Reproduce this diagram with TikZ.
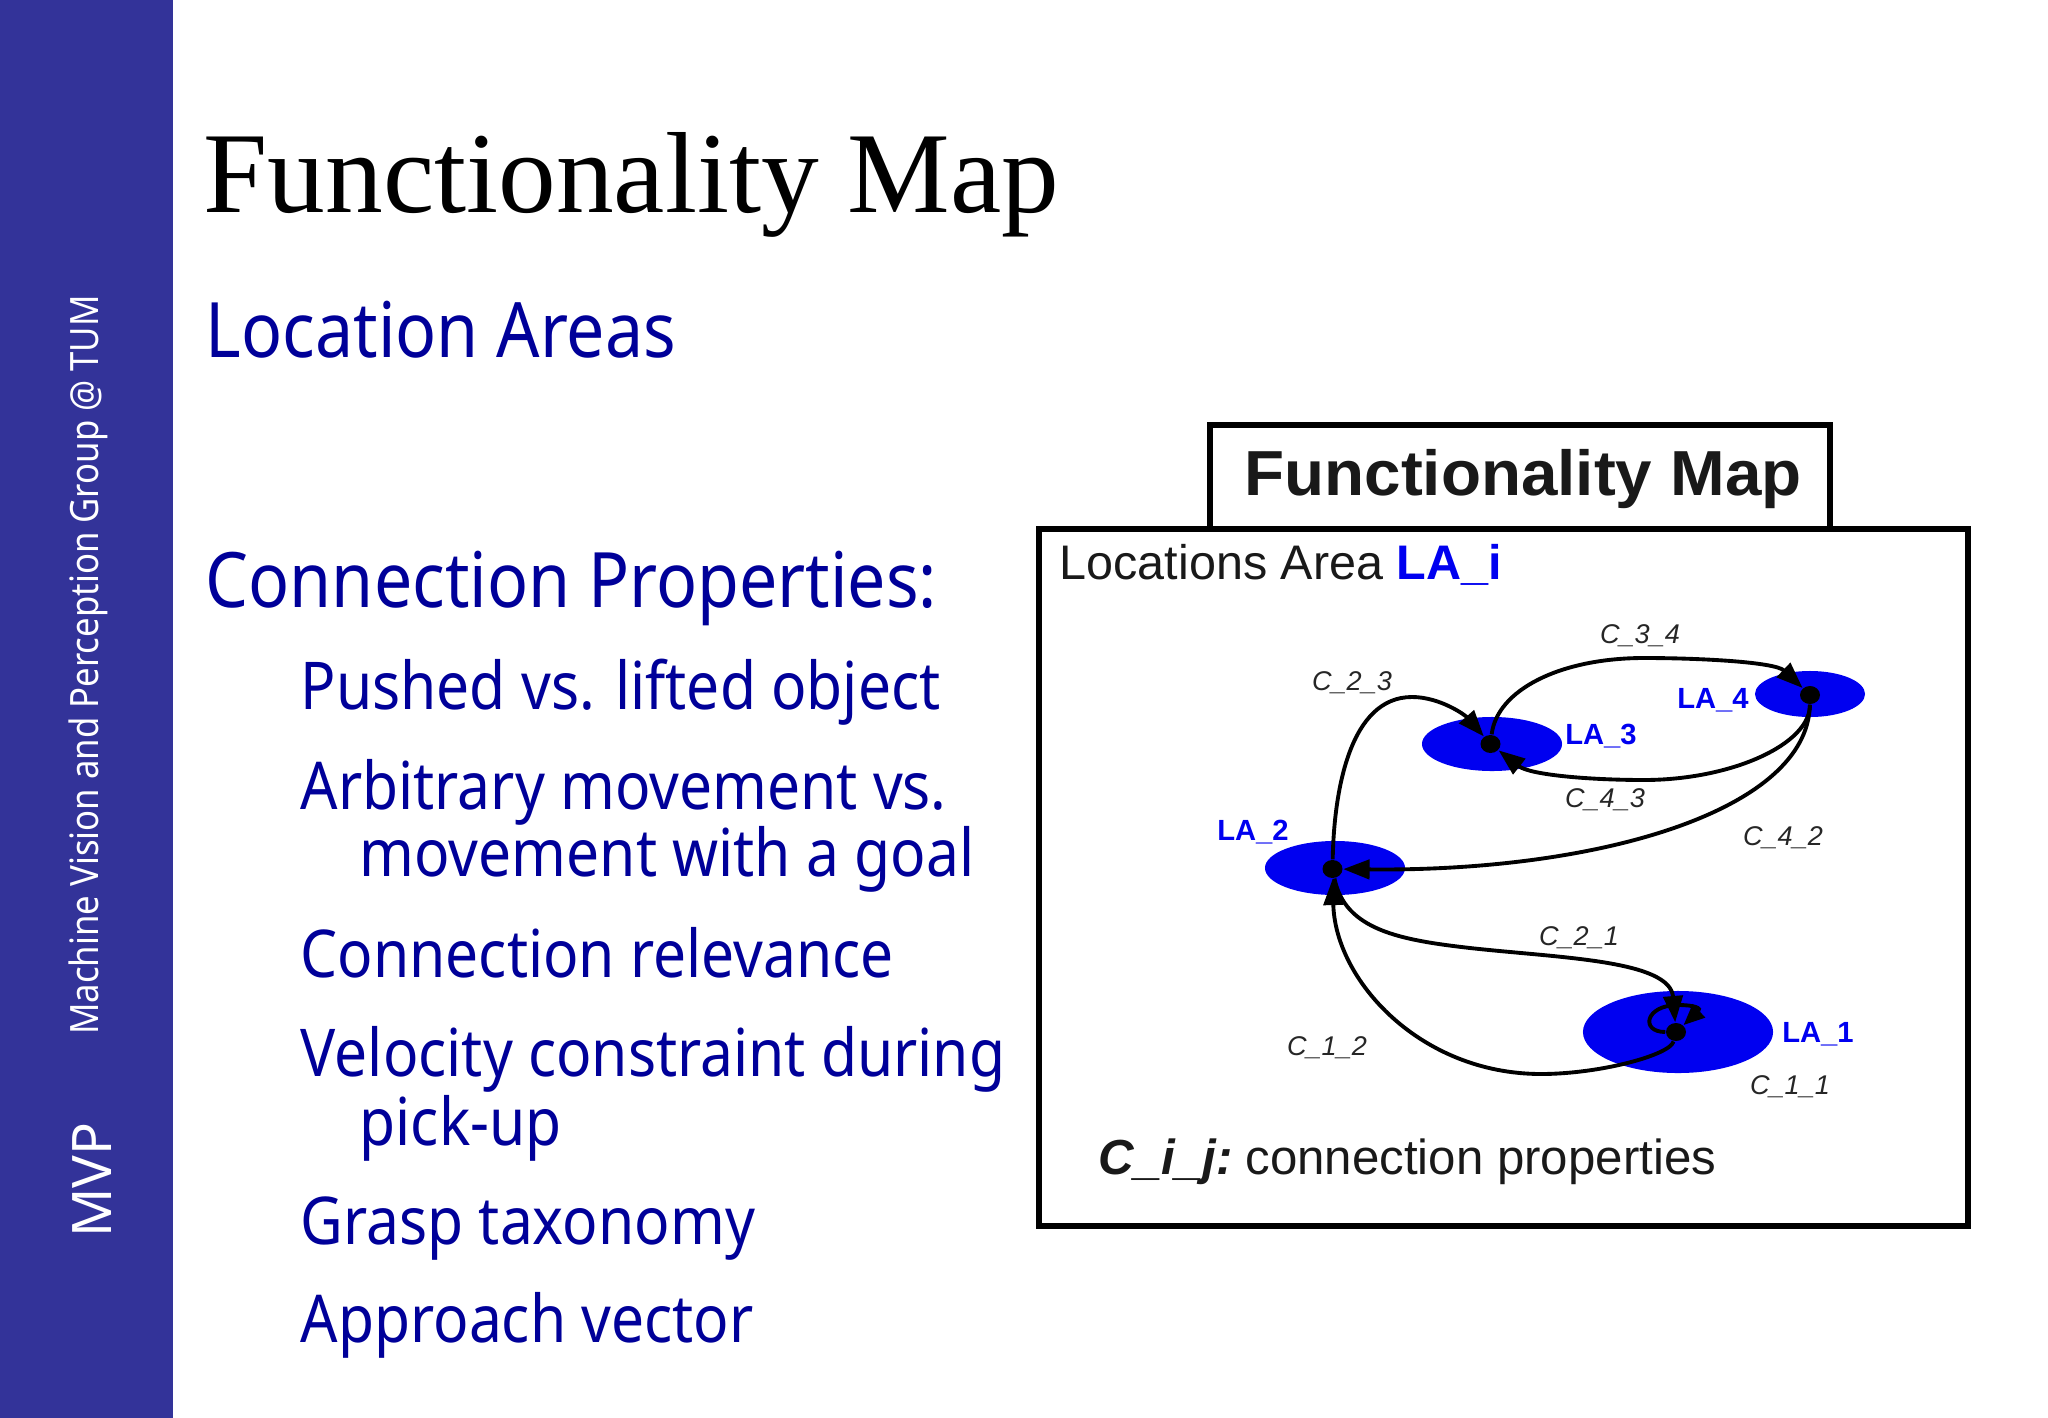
\documentclass[tikz,border=0pt]{standalone}
\usepackage{fontspec}
\usetikzlibrary{arrows.meta,shapes.geometric}
\setmainfont[FakeStretch=0.89]{Noto Sans}
\newfontfamily\serifface{Liberation Serif}
\newfontfamily\arialface{Liberation Sans}
\newfontfamily\wideface[FakeStretch=1.03]{Liberation Sans}
\newfontfamily\plainface{Noto Sans}
\definecolor{sidebar}{HTML}{333399}
\definecolor{slideblue}{HTML}{000099}
\definecolor{areablue}{HTML}{0000F0}
\tikzset{
    heading/.style={anchor=base west, inner sep=0pt, text=slideblue, font=\fontsize{21.75pt}{21.75pt}\selectfont},
    item/.style={anchor=base west, inner sep=0pt, text=slideblue, font=\fontsize{18.75pt}{18.75pt}\selectfont},
    sidetext/.style={rotate=90, inner sep=0pt, text=white},
    area/.style={ellipse, fill=areablue, inner sep=0pt},
    pivot/.style={ellipse, fill=black, inner sep=0pt, minimum width=.2cm, minimum height=.18cm},
    arealabel/.style={inner sep=0pt, text=areablue, font=\arialface\bfseries\fontsize{8.3pt}{8.3pt}\selectfont},
    conlabel/.style={inner sep=0pt, text=black!85, font=\arialface\itshape\fontsize{7.7pt}{7.7pt}\selectfont},
    con/.style={line width=1.1pt, -{Triangle[length=7.5pt,width=5.5pt]}}
}

\begin{document}
\begin{tikzpicture}[x=0.01cm,y=-0.01cm]
    \useasboundingbox (0,0) rectangle (2048,1418);
    \fill[sidebar] (0,0) rectangle (173,1418);

    % side bar
    \node[sidetext, font=\fontsize{11.1pt}{11.1pt}\selectfont] (group) at (88,665) {Machine Vision and Perception Group @ TUM};
    \node[sidetext, font=\plainface\fontsize{15.5pt}{15.5pt}\selectfont] (mvp) at (92,1180) {MVP};

    % slide text
    \node[anchor=base west, inner sep=0pt, font=\serifface\fontsize{32.8pt}{32.8pt}\selectfont] (title) at (203,212) {Functionality Map};
    \node[heading] (locareas) at (205,357) {Location Areas};
    \node[heading] (conprops) at (205,607) {Connection Properties:};
    \node[item] (pushed) at (300,709) {Pushed vs. lifted object};
    \node[item] (arbitrary) at (300,809) {Arbitrary movement vs.};
    \node[item] (arbitrary2) at (359,876) {movement with a goal};
    \node[item] (relevance) at (300,977) {Connection relevance};
    \node[item] (velocity) at (300,1076) {Velocity constraint during};
    \node[item] (velocity2) at (359,1145) {pick-up};
    \node[item] (grasp) at (300,1244) {Grasp taxonomy};
    \node[item] (approach) at (300,1342) {Approach vector};

    % map frame
    \draw[line width=1.7pt] (1210,529) -- (1210,425) -- (1830,425) -- (1830,529);
    \draw[line width=1.7pt] (1039,529) rectangle (1968,1226);
    \node[anchor=base, inner sep=0pt, text=black!90, font=\wideface\bfseries\fontsize{18.1pt}{18.1pt}\selectfont] (maptitle) at (1523,495) {Functionality Map};
    \node[anchor=base west, inner sep=0pt, text=black!90, font=\arialface\fontsize{13.8pt}{13.8pt}\selectfont] (areahead) at (1059,579) {Locations Area \textcolor{areablue}{\bfseries LA\_i}};
    \node[anchor=base west, inner sep=0pt, text=black!90, font=\arialface\fontsize{14pt}{14pt}\selectfont] (conprop) at (1098,1174) {\textbf{\textit{C\_i\_j:}}\hspace{-1.6pt} connection properties};

    % areas
    \node[area, minimum width=1.9cm, minimum height=.82cm] (area1) at (1678,1032) {};
    \node[area, minimum width=1.4cm, minimum height=.54cm] (area2) at (1335,868) {};
    \node[area, minimum width=1.4cm, minimum height=.54cm] (area3) at (1492,744) {};
    \node[area, minimum width=1.1cm, minimum height=.46cm] (area4) at (1810,694) {};
    \node[pivot] (dot1) at (1676,1032) {};
    \node[pivot] (dot2) at (1332.5,869) {};
    \node[pivot] (dot3) at (1490.5,744) {};
    \node[pivot] (dot4) at (1810,695) {};

    \node[arealabel] (la1) at (1818,1034) {LA\_1};
    \node[arealabel] (la2) at (1253,832) {LA\_2};
    \node[arealabel] (la3) at (1601,736) {LA\_3};
    \node[arealabel] (la4) at (1713,700) {LA\_4};

    % connections
    \draw[con] (dot3) .. controls (1497,690) and (1560,658) .. (1644,658) .. controls (1700,658) and (1775,662) .. (dot4);
    \draw[con] (dot4) .. controls (1810,745) and (1730,780) .. (1644,780) .. controls (1590,780) and (1530,775) .. (dot3);
    \draw[con] (dot4) .. controls (1808,810) and (1600,872) .. (dot2);
    \draw[con] (dot2) .. controls (1334,790) and (1350,697) .. (1412,697) .. controls (1440,697) and (1465,715) .. (dot3);
    \draw[con] (dot1) .. controls (1670,1055) and (1600,1074) .. (1541,1074) .. controls (1420,1074) and (1335,980) .. (dot2);
    \draw[con] (dot2) .. controls (1345,930) and (1400,940) .. (1470,948) .. controls (1560,958) and (1670,960) .. (dot1);
    \draw[con, -{Triangle[length=6pt,width=5pt]}] (dot1) .. controls (1640,1032) and (1645,1005) .. (1678,1005) .. controls (1694,1005) and (1702,1008) .. (dot1);

    \node[conlabel] (c34) at (1640,636) {C\_3\_4};
    \node[conlabel] (c23) at (1352,683) {C\_2\_3};
    \node[conlabel] (c43) at (1605,800) {C\_4\_3};
    \node[conlabel] (c42) at (1783,838) {C\_4\_2};
    \node[conlabel] (c21) at (1579,938) {C\_2\_1};
    \node[conlabel] (c12) at (1327,1048) {C\_1\_2};
    \node[conlabel] (c11) at (1790,1087) {C\_1\_1};
\end{tikzpicture}
\end{document}
